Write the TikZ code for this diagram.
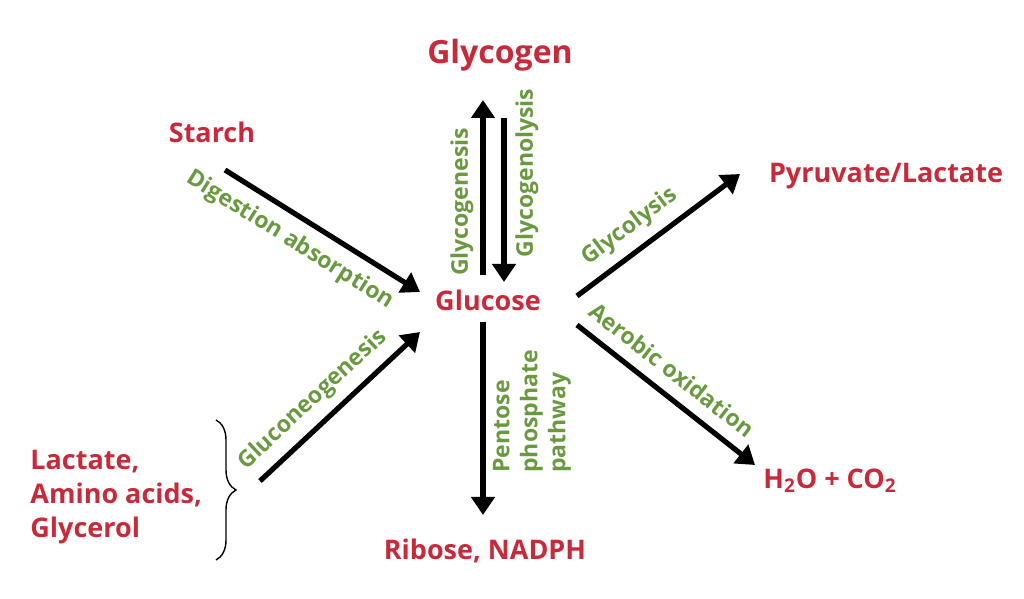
\documentclass[tikz,border=0pt]{standalone}
\usepackage{fontspec}
\setmainfont{Open Sans}
\usetikzlibrary{arrows.meta,calc,decorations.pathreplacing}
\definecolor{metred}{HTML}{C72A3B}
\definecolor{metgreen}{HTML}{6A9A40}
\begin{document}
\begin{tikzpicture}
    [x=0.5pt, y=0.5pt,
    product/.style={text=metred, font=\bfseries\fontsize{13.5}{17}\selectfont, inner sep=0pt},
    route/.style={text=metgreen, font=\bfseries\fontsize{11.5}{14}\selectfont, inner sep=0pt},
    flow/.style={line width=2.6pt, -{Triangle[width=11.5pt,length=9pt]}}]
    \useasboundingbox (0,0) rectangle (1024,599);
    \node[product, font=\bfseries\fontsize{16}{19}\selectfont] (glycogen) at (500,544) {Glycogen};
    \node[product] (starch) at (212,467) {Starch};
    \node[product] (glucose) at (488,299) {Glucose};
    \node[product] (pyruvate) at (886,423) {Pyruvate/Lactate};
    \node[product] (water) at (830,118) {H\textsubscript{2}O + CO\textsubscript{2}};
    \node[product] (ribose) at (485,48) {Ribose, NADPH};
    \node[product, anchor=west, align=left] (precursors) at (30,102) {Lactate,\\Amino acids,\\Glycerol};
    \draw[line width=0.7pt, decorate, decoration={brace, amplitude=10pt}] (216,179) -- (216,39)
      coordinate[pos=0.5, xshift=10.5pt] (bracetip);
    % arrows
    \draw[flow] ($(starch)+(13,-38)$) -- ($(glucose)+(-68,8)$);
    \draw[flow] ($(bracetip)+(23,9)$) -- ($(glucose)+(-68,-32)$);
    \draw[flow] ($(glucose)+(-5,25)$) -- ($(glycogen)+(-17,-45)$);
    \draw[flow] ($(glycogen)+(4,-63)$) -- ($(glucose)+(16,18)$);
    \draw[flow] ($(glucose)+(-5,-22)$) -- ($(ribose)+(-2,36)$);
    \draw[flow] ($(glucose)+(89,4)$) -- ($(pyruvate)+(-146,2)$);
    \draw[flow] ($(glucose)+(89,-25)$) -- ($(water)+(-75,16)$);
    % pathway names
    \node[route, rotate=-32] (digestion) at (290,359) {Digestion absorption};
    \node[route, rotate=43] (gng) at (313,199) {Gluconeogenesis};
    \node[route, rotate=90] (genesis) at (462,397) {Glycogenesis};
    \node[route, rotate=90] (lysis) at (527,426) {Glycogenolysis};
    \node[route, rotate=37] (glycolysis) at (630,372) {Glycolysis};
    \node[route, rotate=-38] (aerobic) at (672,229) {Aerobic oxidation};
    \node[route, rotate=90, anchor=west, align=left] (pentose) at (532,126) {Pentose\\phosphate\\pathway};
\end{tikzpicture}
\end{document}
